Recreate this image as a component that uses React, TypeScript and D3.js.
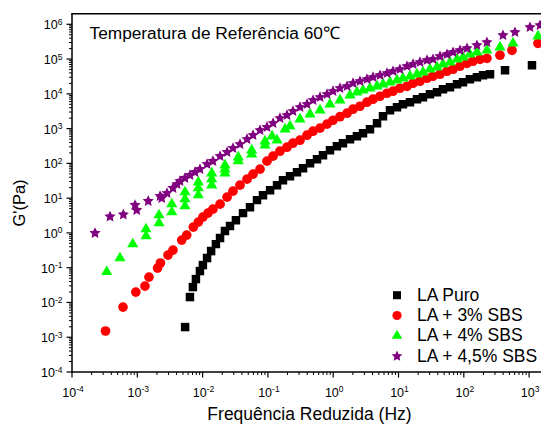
import React from "react";
import * as d3 from "d3";

// ---- Data ----
const seriesNames = ["LA Puro", "LA + 3% SBS", "LA + 4% SBS", "LA + 4,5% SBS"];

const freqPuro = [5.4e-3, 6.4e-3, 7.1e-3, 7.9e-3, 9.1e-3, 1.01e-2, 1.17e-2, 1.35e-2, 1.6e-2, 1.85e-2, 2.2e-2, 2.63e-2, 3.24e-2, 4.16e-2, 5.32e-2, 6.81e-2, 8.41e-2, 0.108, 0.138, 0.17, 0.218, 0.279, 0.345, 0.442, 0.565, 0.698, 0.893, 1.14, 1.41, 1.81, 2.31, 2.86, 3.66, 4.69, 5.79, 7.41, 9.48, 11.7, 15.0, 19.2, 23.7, 30.3, 38.9, 48.0, 61.5, 78.7, 97.2, 124, 159, 197, 252, 428, 1107];
const gPuro = [1.96e-3, 1.43e-2, 2.77e-2, 4.7e-2, 8.0e-2, 0.119, 0.189, 0.3, 0.476, 0.709, 1.13, 1.57, 2.33, 3.71, 5.51, 8.77, 12.2, 17.0, 23.6, 32.9, 42.9, 55.8, 72.8, 101, 132, 172, 239, 312, 380, 495, 605, 738, 962, 1430, 2270, 3380, 4120, 5020, 5740, 7000, 7980, 9750, 11100, 13600, 15500, 18900, 21500, 26300, 30000, 34200, 36600, 47600, 66300];

const freqSBS3 = [3.26e-4, 6.04e-4, 9.5e-4, 1.31e-3, 1.51e-3, 2.04e-3, 2.26e-3, 2.95e-3, 3.52e-3, 4.79e-3, 5.71e-3, 7.21e-3, 8.59e-3, 1.01e-2, 1.21e-2, 1.44e-2, 1.85e-2, 2.37e-2, 2.92e-2, 3.74e-2, 4.79e-2, 5.92e-2, 7.57e-2, 9.68e-2, 0.12, 0.153, 0.196, 0.242, 0.31, 0.397, 0.491, 0.628, 0.804, 0.993, 1.27, 1.63, 2.01, 2.57, 3.29, 4.07, 5.21, 6.67, 8.24, 10.5, 13.5, 16.7, 21.3, 27.3, 33.7, 43.2, 55.3, 68.4, 87.5, 112, 138, 177, 226, 358, 547, 1368];
const gSBS3 = [1.51e-3, 7.37e-3, 1.99e-2, 2.96e-2, 5.37e-2, 9.74e-2, 0.136, 0.23, 0.321, 0.621, 0.865, 1.47, 2.04, 2.84, 3.71, 4.83, 6.73, 10.7, 15.9, 23.6, 35.2, 49.0, 68.1, 116, 161, 224, 292, 380, 464, 646, 841, 1030, 1340, 1740, 2200, 2770, 3610, 4400, 5740, 7000, 8530, 10400, 11900, 14500, 16500, 20200, 23000, 28100, 32100, 36600, 44600, 50900, 62100, 75700, 86500, 98600, 105000, 129000, 179000, 284000];

const freqSBS4 = [3.4e-4, 5.43e-4, 8.51e-4, 1.36e-3, 1.36e-3, 2.15e-3, 2.15e-3, 3.37e-3, 3.37e-3, 5.37e-3, 5.37e-3, 5.37e-3, 8.59e-3, 8.59e-3, 8.59e-3, 1.38e-2, 1.38e-2, 1.38e-2, 2.2e-2, 2.2e-2, 2.2e-2, 3.52e-2, 3.52e-2, 5.65e-2, 5.65e-2, 9.04e-2, 9.04e-2, 0.116, 0.138, 0.183, 0.218, 0.31, 0.442, 0.628, 0.893, 1.27, 1.81, 2.31, 2.86, 3.66, 4.69, 5.79, 7.41, 9.48, 11.7, 15.0, 19.2, 23.7, 30.3, 38.9, 48.0, 61.5, 78.7, 97.2, 124, 159, 226, 358, 566, 1368];
const gSBS4 = [7.6e-2, 0.189, 0.476, 1.29, 0.809, 3.25, 1.91, 6.73, 3.96, 14.9, 9.36, 5.89, 28.8, 19.4, 12.2, 52.2, 35.2, 23.6, 88.8, 68.1, 52.2, 151, 116, 239, 184, 435, 333, 605, 464, 962, 1170, 1860, 2590, 3380, 5020, 6550, 9120, 11100, 12700, 14500, 16500, 18900, 21500, 24600, 28100, 32100, 36600, 41800, 50900, 58100, 71000, 81000, 98600, 113000, 137000, 157000, 179000, 218000, 284000, 452000];

const freqSBS45 = [2.25e-4, 3.82e-4, 6.11e-4, 9.23e-4, 9.8e-4, 1.47e-3, 2.23e-3, 2.37e-3, 2.85e-3, 3.52e-3, 4.06e-3, 4.51e-3, 5.37e-3, 6.41e-3, 7.66e-3, 9.12e-3, 1.17e-2, 1.44e-2, 1.85e-2, 2.37e-2, 2.92e-2, 3.74e-2, 4.79e-2, 5.92e-2, 7.57e-2, 9.68e-2, 0.12, 0.153, 0.196, 0.242, 0.31, 0.397, 0.491, 0.628, 0.804, 0.993, 1.27, 1.63, 2.01, 2.57, 3.29, 4.07, 5.21, 6.67, 8.24, 10.5, 13.5, 16.7, 21.3, 27.3, 33.7, 43.2, 55.3, 68.4, 87.5, 112, 159, 226, 398, 608, 1032, 1468];
const gSBS45 = [0.987, 2.94, 3.36, 6.29, 4.52, 8.2, 11.4, 10.0, 13.9, 19.4, 25.2, 30.8, 37.6, 45.8, 55.8, 68.1, 94.8, 116, 161, 210, 274, 356, 495, 646, 899, 1100, 1430, 1990, 2430, 3160, 4120, 5020, 6550, 7980, 9750, 11900, 14500, 16500, 20200, 23000, 26300, 30000, 34200, 39100, 44600, 50900, 62100, 71000, 81000, 92500, 98600, 120000, 137000, 157000, 179000, 204000, 249000, 304000, 483000, 590000, 820000, 936000];

const xTickExponents = [-4, -3, -2, -1, 0, 1, 2, 3];
const yTickExponents = [-4, -3, -2, -1, 0, 1, 2, 3, 4, 5, 6];

const titleText = "Temperatura de Referência 60\u2103";
const xAxisTitle = "Frequência Reduzida (Hz)";
const yAxisTitle = "G'(Pa)";

// ---- Styling ----
const colors = ["#000000", "#ff0000", "#00ff00", "#800080"];
const FONT = "'Liberation Sans', Arial, Helvetica, sans-serif";

// chunky 5-point star symbol
const starSymbol = {
  draw(context: any, size: number) {
    const r = Math.sqrt(size) * 0.62;
    const ri = r * 0.48;
    for (let i = 0; i < 10; i++) {
      const rad = i % 2 === 0 ? r : ri;
      const a = -Math.PI / 2 + (i * Math.PI) / 5;
      const px = rad * Math.cos(a);
      const py = rad * Math.sin(a);
      if (i === 0) context.moveTo(px, py);
      else context.lineTo(px, py);
    }
    context.closePath();
  },
};

const symbolTypes: any[] = [d3.symbolSquare, d3.symbolCircle, d3.symbolTriangle, starSymbol];
const symbolSizes = [72, 74, 54, 90];

export default function App() {
  const W = 541;
  const H = 428;
  const left = 72;
  const bottom = 372;
  const decX = 65.3;
  const decY = 34.77;
  const x = d3
    .scaleLog()
    .domain([1e-4, Math.pow(10, 3.3)])
    .range([left, left + 7.3 * decX]);
  const y = d3
    .scaleLog()
    .domain([1e-4, Math.pow(10, 6.3)])
    .range([bottom, bottom - 10.3 * decY]);
  const [x0, x1] = x.range();
  const [y0, y1] = y.range();

  const series = [
    { f: freqPuro, g: gPuro },
    { f: freqSBS3, g: gSBS3 },
    { f: freqSBS4, g: gSBS4 },
    { f: freqSBS45, g: gSBS45 },
  ];

  const paths = symbolTypes.map((t, i) => d3.symbol().type(t).size(symbolSizes[i])() as string);
  const legendPaths = symbolTypes.map((t, i) => d3.symbol().type(t).size(symbolSizes[i] * 0.9)() as string);

  const minor = (lo: number, hi: number, domMax: number) => {
    const out: number[] = [];
    for (let d = lo; d <= hi; d++) {
      for (let k = 2; k <= 9; k++) {
        const v = k * Math.pow(10, d);
        if (v < domMax) out.push(v);
      }
    }
    return out;
  };
  const xMinor = minor(-4, 3, x.domain()[1]);
  const yMinor = minor(-4, 6, y.domain()[1]);

  const legendBaselines = [300.7, 321, 341.3, 361.7];

  return (
    <div style={{ position: "absolute", left: 0, top: 0 }}>
      <svg width={W} height={H} style={{ display: "block", background: "#fff" }} fontFamily={FONT}>
        <defs>
          <clipPath id="plotClip">
            <rect x={x0} y={y1} width={x1 - x0} height={y0 - y1} />
          </clipPath>
        </defs>
        <rect x={0} y={0} width={W} height={H} fill="#fff" />

        {/* data */}
        <g clipPath="url(#plotClip)">
          {series.map((s, si) => (
            <g key={si} fill={colors[si]}>
              {s.f.map((fv, i) => (
                <path key={i} d={paths[si]} transform={`translate(${x(fv)},${y(s.g[i])})`} />
              ))}
            </g>
          ))}
        </g>

        {/* frame */}
        <g stroke="#000" strokeWidth={1.5} fill="none">
          <line x1={x0} x2={x0} y1={y1} y2={y0 + 0.75} />
          <line x1={x0 - 0.75} x2={x1} y1={y0} y2={y0} />
          <line x1={x0 - 0.75} x2={x1} y1={y1} y2={y1} />
          <line x1={x1} x2={x1} y1={y1} y2={y0} />
        </g>

        {/* y ticks */}
        <g stroke="#000" strokeWidth={1.2}>
          {yTickExponents.map((e) => (
            <line key={"ym" + e} x1={x0 - 5.5} x2={x0} y1={y(Math.pow(10, e))} y2={y(Math.pow(10, e))} />
          ))}
          {yMinor.map((v, i) => (
            <line key={"yn" + i} x1={x0 - 3} x2={x0} y1={y(v)} y2={y(v)} strokeWidth={1} />
          ))}
        </g>
        {yTickExponents.map((e) => (
          <text key={"yl" + e} x={62.5} y={y(Math.pow(10, e)) + 5} textAnchor="end" fontSize={12.5} fill="#000">
            <tspan>10</tspan>
            <tspan fontSize={8.5} dy={-4.5}>{e < 0 ? "-" + Math.abs(e) : String(e)}</tspan>
          </text>
        ))}

        {/* x ticks */}
        <g stroke="#000" strokeWidth={1.2}>
          {xTickExponents.map((e) => (
            <line key={"xm" + e} x1={x(Math.pow(10, e))} x2={x(Math.pow(10, e))} y1={y0} y2={y0 + 5.5} />
          ))}
          {xMinor.map((v, i) => (
            <line key={"xn" + i} x1={x(v)} x2={x(v)} y1={y0} y2={y0 + 3} strokeWidth={1} />
          ))}
        </g>
        {xTickExponents.map((e) => (
          <text key={"xl" + e} x={x(Math.pow(10, e)) + 1} y={396.5} textAnchor="middle" fontSize={12.5} fill="#000">
            <tspan>10</tspan>
            <tspan fontSize={8.5} dy={-4.5}>{e < 0 ? "-" + Math.abs(e) : String(e)}</tspan>
          </text>
        ))}

        {/* axis titles */}
        <text x={309.5} y={420} textAnchor="middle" fontSize={17.5} fill="#000">
          {xAxisTitle}
        </text>
        <text transform="translate(25,203) rotate(-90)" textAnchor="middle" fontSize={16.5} fill="#000">
          {yAxisTitle}
        </text>

        {/* title */}
        <text x={89.5} y={38.5} fontSize={17.3} fill="#000">
          {titleText}
        </text>

        {/* legend */}
        {seriesNames.map((name, i) => (
          <g key={"lg" + i}>
            <path d={legendPaths[i]} fill={colors[i]} transform={`translate(397,${legendBaselines[i] - 5.5})`} />
            <text x={417} y={legendBaselines[i]} fontSize={17.5} fill="#000">
              {name}
            </text>
          </g>
        ))}
      </svg>
    </div>
  );
}
